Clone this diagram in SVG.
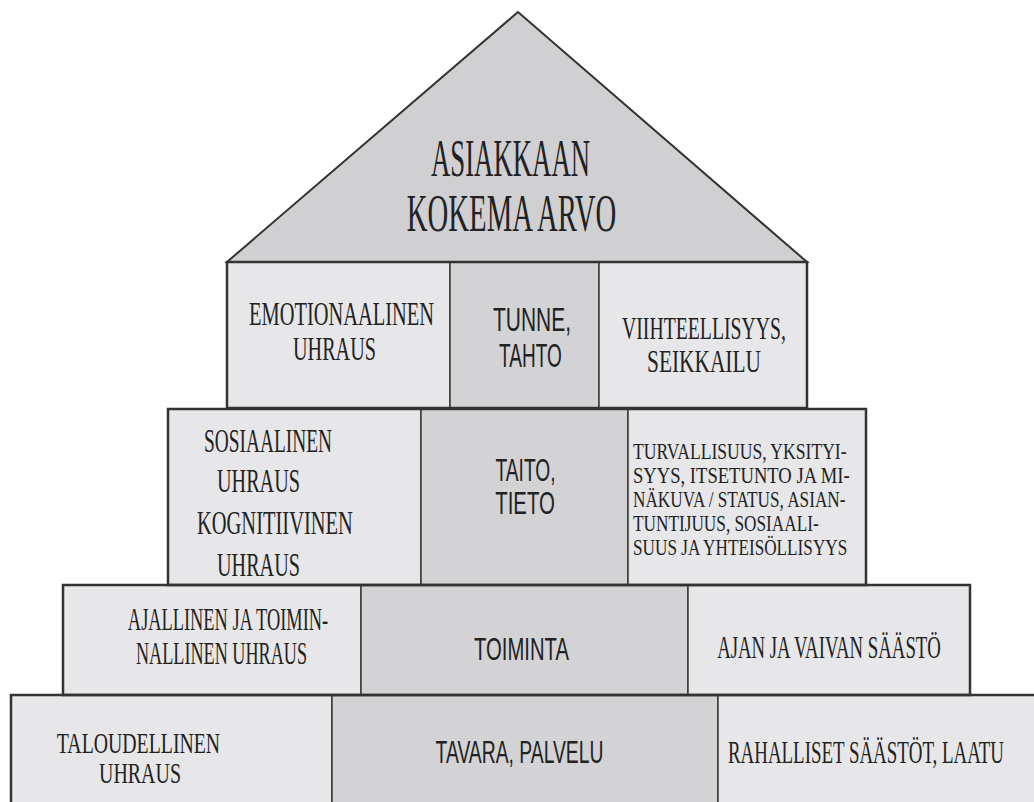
<svg xmlns="http://www.w3.org/2000/svg" width="1034" height="802" viewBox="0 0 1034 802">
<style>
.side{fill:#e7e7e9;stroke:#3a3a3a;stroke-width:1.5}
.mid{fill:#d3d3d5;stroke:#3a3a3a;stroke-width:1.5}
.roof{fill:#d0d0d2;stroke:#333;stroke-width:2}
.row{fill:none;stroke:#333;stroke-width:2.5}
text{fill:#222}
.m{text-anchor:middle}
.s{font-family:"Liberation Serif",serif;font-size:33px}
.s30{font-family:"Liberation Serif",serif;font-size:30px}
.s32{font-family:"Liberation Serif",serif;font-size:32px}
.ss{font-family:"Liberation Serif",serif;font-size:23px}
.r{font-family:"Liberation Serif",serif;font-size:52px}
.c{font-family:"Liberation Sans",sans-serif;font-size:34px}
.c32{font-family:"Liberation Sans",sans-serif;font-size:32px}
</style>
<rect width="1034" height="802" fill="#ffffff"/>
<g id="roof">
<polygon class="roof" points="518,12 227,262 807,262"/>
<text class="r m" transform="translate(510.5,176) scale(0.515,1)">ASIAKKAAN</text>
<text class="r m" transform="translate(511.5,231) scale(0.553,1)">KOKEMA ARVO</text>
</g>
<g id="row1">
<g id="r1-left">
<rect class="side" x="227" y="262" width="223" height="146"/>
<text class="s m" transform="translate(341.5,325) scale(0.619,1)">EMOTIONAALINEN</text>
<text class="s m" transform="translate(334.5,360) scale(0.612,1)">UHRAUS</text>
</g>
<g id="r1-mid">
<rect class="mid" x="450" y="262" width="149" height="146"/>
<text class="c m" transform="translate(532,331) scale(0.617,1)">TUNNE,</text>
<text class="c m" transform="translate(530.5,367) scale(0.56,1)">TAHTO</text>
</g>
<g id="r1-right">
<rect class="side" x="599" y="262" width="208" height="146"/>
<text class="s32 m" transform="translate(704,339) scale(0.617,1)">VIIHTEELLISYYS,</text>
<text class="s32 m" transform="translate(704,372) scale(0.668,1)">SEIKKAILU</text>
</g>
</g>
<g id="row2">
<g id="r2-left">
<rect class="side" x="168" y="409" width="253" height="176"/>
<text class="s" transform="translate(204,452) scale(0.587,1)">SOSIAALINEN</text>
<text class="s" transform="translate(217,492) scale(0.612,1)">UHRAUS</text>
<text class="s" transform="translate(197,534) scale(0.621,1)">KOGNITIIVINEN</text>
<text class="s" transform="translate(217,576) scale(0.612,1)">UHRAUS</text>
</g>
<g id="r2-mid">
<rect class="mid" x="421" y="409" width="207" height="176"/>
<text class="c32 m" transform="translate(525.5,481) scale(0.6,1)">TAITO,</text>
<text class="c32 m" transform="translate(525,514) scale(0.637,1)">TIETO</text>
</g>
<g id="r2-right">
<rect class="side" x="628" y="409" width="238" height="176"/>
<text class="ss" transform="translate(633,459) scale(0.765,1)">TURVALLISUUS, YKSITYI-</text>
<text class="ss" transform="translate(633,483) scale(0.809,1)">SYYS, ITSETUNTO JA MI-</text>
<text class="ss" transform="translate(633,507) scale(0.749,1)">NÄKUVA / STATUS, ASIAN-</text>
<text class="ss" transform="translate(633,531) scale(0.75,1)">TUNTIJUUS, SOSIAALI-</text>
<text class="ss" transform="translate(633,555) scale(0.748,1)">SUUS JA YHTEISÖLLISYYS</text>
</g>
</g>
<g id="row3">
<g id="r3-left">
<rect class="side" x="63" y="585" width="298" height="110"/>
<text class="s32 m" transform="translate(228,630) scale(0.574,1)">AJALLINEN JA TOIMIN-</text>
<text class="s32 m" transform="translate(221.5,664) scale(0.568,1)">NALLINEN UHRAUS</text>
</g>
<g id="r3-mid">
<rect class="mid" x="361" y="585" width="327" height="110"/>
<text class="c32 m" transform="translate(521.5,660) scale(0.634,1)">TOIMINTA</text>
</g>
<g id="r3-right">
<rect class="side" x="688" y="585" width="282" height="110"/>
<text class="s32 m" transform="translate(829,658) scale(0.587,1)">AJAN JA VAIVAN SÄÄSTÖ</text>
</g>
</g>
<g id="row4">
<g id="r4-left">
<rect class="side" x="11" y="695" width="321" height="120"/>
<text class="s30 m" transform="translate(138.5,753) scale(0.66,1)">TALOUDELLINEN</text>
<text class="s30 m" transform="translate(140,783) scale(0.665,1)">UHRAUS</text>
</g>
<g id="r4-mid">
<rect class="mid" x="332" y="695" width="386" height="120"/>
<text class="c32 m" transform="translate(519.5,763) scale(0.604,1)">TAVARA, PALVELU</text>
</g>
<g id="r4-right">
<rect class="side" x="718" y="695" width="330" height="120"/>
<text class="s32 m" transform="translate(866,763) scale(0.591,1)">RAHALLISET SÄÄSTÖT, LAATU</text>
</g>
</g>
<g id="connectors">
<rect class="row" x="227" y="262" width="580" height="146"/>
<rect class="row" x="168" y="409" width="698" height="176"/>
<rect class="row" x="63" y="585" width="907" height="110"/>
<rect class="row" x="11" y="695" width="1040" height="120"/>
</g>
</svg>
